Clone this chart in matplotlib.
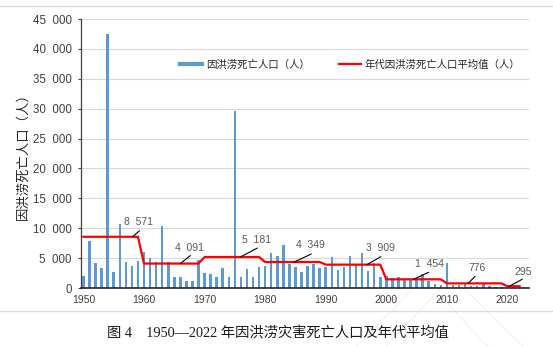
import matplotlib
matplotlib.use('Agg')
import matplotlib.pyplot as plt
from matplotlib.lines import Line2D
from matplotlib.ticker import FuncFormatter, MultipleLocator

plt.rcParams['font.family'] = ['Liberation Sans', 'Noto Sans CJK SC']

years = list(range(1950, 2023))
deaths = [1982, 7819, 4162, 3308, 42447, 2718, 10676, 4415, 3642, 4540,
          6033, 5074, 4350, 10441, 4288, 1906, 1901, 1095, 1159, 4667,
          2444, 2323, 1910, 3413, 1849, 29653, 1817, 3163, 1796, 3446,
          3705, 5832, 5323, 7238, 3941, 3578, 2761, 3749, 4094, 3270,
          3589, 5113, 3012, 3499, 5340, 3852, 5840, 2799, 4150, 1896,
          1942, 1605, 1819, 1551, 1282, 1660, 2276, 1230, 633, 538,
          4226, 445, 577, 665, 417, 274, 589, 271, 160, 136,
          230, 484, 171]

decade_start = [1950, 1960, 1970, 1980, 1990, 2000, 2010, 2020]
decade_avg = [8571, 4091, 5181, 4349, 3909, 1454, 776, 295]

# year on the red line where each average label is hooked
label_year = [1958.1, 1966.0, 1975.9, 1984.8, 1996.8, 2004.5, 2013.5, 2020.3]
# leader end and text centre, pixel offsets from the hook point
leader_off = [(7, 6), (10, 8), (17, 9), (17, 8), (14, 8), (15, 7), (7, 7), (13, 7)]
text_off = [(6, 15), (9, 16), (16, 17), (16, 17), (14, 17), (16, 15), (9, 15), (14, 14)]


def avg_of(y):
    for start, val in zip(reversed(decade_start), reversed(decade_avg)):
        if y >= start:
            return val


def thousands(v, gap='  '):
    return f'{int(v):,}'.replace(',', gap)


avg_line = [avg_of(y) for y in years]

W, H = 553, 347
fig = plt.figure(figsize=(W / 100, H / 100), dpi=100)
ax = fig.add_axes([0.1465, 0.170, 0.8106, 0.775])
ax.set_facecolor('none')

ax.bar(years, deaths, width=0.42, color='#5B9BD5', zorder=2)
ax.plot(years, avg_line, color='#FF0000', lw=1.6, zorder=3)

for yr, val, (lx, ly), (tx, ty) in zip(label_year, decade_avg, leader_off, text_off):
    ax.annotate('', xy=(yr, val), xytext=(lx, ly), textcoords='offset pixels',
                arrowprops=dict(arrowstyle='-', color='black', lw=0.8,
                                shrinkA=0, shrinkB=0), zorder=4)
    ax.annotate(thousands(val), xy=(yr, val), xytext=(tx, ty),
                textcoords='offset pixels', ha='center', va='center',
                fontsize=7.5, color='#595959', zorder=4)

ax.set_xlim(1949.6, 2023.6)
ax.set_ylim(0, 45000)
ax.xaxis.set_major_locator(MultipleLocator(10))
ax.yaxis.set_major_locator(MultipleLocator(5000))
ax.yaxis.set_major_formatter(FuncFormatter(lambda v, p: thousands(v, '  ')))
ax.tick_params(axis='x', length=0, labelsize=7.5, colors='#404040', pad=5)
ax.tick_params(axis='y', length=2.5, width=0.8, labelsize=8.3, colors='#404040', pad=4)
ax.grid(axis='y', color='#D9D9D9', lw=0.8, zorder=0)
ax.set_axisbelow(True)
for s in ['top', 'right']:
    ax.spines[s].set_visible(False)
ax.spines['left'].set_color('#404040')
ax.spines['left'].set_linewidth(0.9)
ax.spines['bottom'].set_color('#262626')
ax.spines['bottom'].set_linewidth(1.2)

ax.set_ylabel('因洪涝死亡人口（人）', fontsize=9.6, color='#262626')
ax.yaxis.set_label_coords(-0.114, 0.5)

handles = [Line2D([], [], color='#5B9BD5', lw=3),
           Line2D([], [], color='#FF0000', lw=1.6)]
fig.legend(handles, ['因洪涝死亡人口（人）', '年代因洪涝死亡人口平均值（人）'],
           loc='center', bbox_to_anchor=(0.633, 0.813), ncol=2, frameon=False,
           fontsize=7.5, handlelength=2.1, handletextpad=0.4, columnspacing=2.8,
           borderaxespad=0, labelcolor='#262626')

# chart frame lines above and below the plot area
for yf in [1 - 6 / H, 1 - 311 / H]:
    fig.add_artist(Line2D([0, 1], [yf, yf], transform=fig.transFigure,
                          color='#DCDCDC', lw=1))

# faint green chevron mark in the lower right, kept behind the plot
for xs, ys in [([356, 438, 524], [347, 263, 347]),
               ([386, 437, 488], [347, 292, 347])]:
    fig.add_artist(Line2D([x / W for x in xs], [1 - y / H for y in ys],
                          transform=fig.transFigure, color='#E3FAE3',
                          lw=0.7, zorder=-1))

fig.text(0.503, 1 - 333 / H, '图 4\u30001950—2022 年因洪涝灾害死亡人口及年代平均值',
         ha='center', va='center', fontsize=10.3, color='#1a1a1a',
         family=['Liberation Serif', 'Noto Sans CJK SC'])

fig.savefig('out.png', dpi=100)
